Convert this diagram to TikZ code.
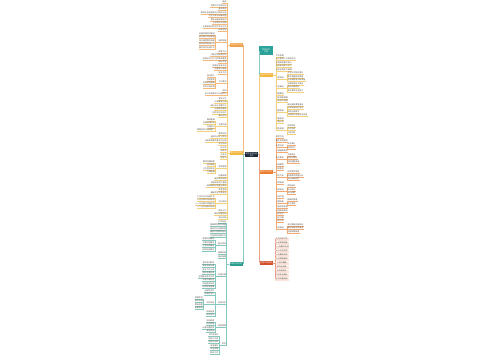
\documentclass[tikz,border=0pt]{standalone}
\usepackage{fontspec}
\usepackage{xcolor}
\newfontfamily\cjk{Noto Sans CJK SC}
\definecolor{ink}{HTML}{555049}
\definecolor{nv}{HTML}{1D2B3A}
\definecolor{tpC}{HTML}{2BA39A}
\definecolor{ojC}{HTML}{F0A04B}
\definecolor{ojL}{HTML}{F3B97C}
\definecolor{yeC}{HTML}{F2B73E}
\definecolor{yeL}{HTML}{F3D27E}
\definecolor{tlC}{HTML}{2A9D8F}
\definecolor{tlL}{HTML}{86C7BE}
\definecolor{orC}{HTML}{EC7A2C}
\definecolor{orL}{HTML}{F2AA72}
\definecolor{rdC}{HTML}{D4502A}
\definecolor{rdL}{HTML}{EC9E86}
\definecolor{rdF}{HTML}{FBE3DA}

\tikzset{
  lf/.style={font=\cjk\fontsize{2.8}{3}\selectfont, text=ink, inner xsep=0.3pt, inner ysep=0.5pt},
  br/.style={font=\cjk\fontsize{2.8}{3}\selectfont, text=white, minimum width=6.5mm, minimum height=1.8mm, inner sep=0.2pt},
  bx/.style={lf, fill=rdF, minimum width=7mm, minimum height=1.5mm, inner ysep=0.3pt},
  cn/.style={line width=0.4pt},
}

% feuille a gauche / a droite
\newcommand\lfL[4]{%
  \node[lf, anchor=south east, xshift=-1.5mm] (#1) at (#2 |- 0,#3) {#4};
  \draw[ln] (#2) -| (#1.south east) -- (#1.south west);}
\newcommand\lfR[4]{%
  \node[lf, anchor=south west, xshift=1.5mm] (#1) at (#2 |- 0,#3) {#4};
  \draw[ln] (#2) -| (#1.south west) -- (#1.south east);}
\newcommand\bxR[4]{%
  \node[bx, anchor=west, xshift=1mm] (#1) at (#2 |- 0,#3) {#4};
  \draw[ln] (#2) -| (#1.west);}

\begin{document}
\begin{tikzpicture}[x=0.5mm, y=-0.5mm]
  \useasboundingbox (0,0) rectangle (500,360);

  % Centre et branches
  \node[br, fill=nv, minimum height=2.6mm, align=center] (c) at (251.5,154.5) {学校工作计划\\范文};
  \node[br, fill=tpC, minimum width=7mm, minimum height=4.5mm, align=center] (tp) at (266,50.5) {学校工作\\计划};
  \node[br, fill=ojC] (bo) at (236.5,44.8) {学期工作计划};
  \node[br, fill=yeC] (by) at (236.5,152.8) {教学工作计划};
  \node[br, fill=tlC] (bt) at (236,264.2) {专项工作计划};
  \node[br, fill=yeC] (ry) at (266,74.8) {年度工作计划};
  \node[br, fill=orC] (ro) at (266,171.8) {德育工作计划};
  \node[br, fill=rdC] (rr) at (266,263.2) {月度工作安排};

  \draw[cn, ojL] (c.west) -| (bo.east);
  \draw[cn, yeL] (c.west) -| (by.east);
  \draw[cn, tlL] (c.west) -| (bt.east);
  \draw[cn, tlL] (c.east) -| (tp.west);
  \draw[cn, yeL] (c.east) -| (ry.west);
  \draw[cn, orL] (c.east) -| (ro.west);
  \draw[cn, rdL] (c.east) -| (rr.west);

  % Branche orange, a gauche
  \begin{scope}[ln/.style={draw=ojL, line width=0.3pt}]
    \foreach \n/\y/\txt in {oa/3/概述, ob/7/学期工作总体目标, oc/10.5/基本情况,
      od/14/教师队伍建设情况与结构分析, oe/17.5/学生人数与班级设置, of/21/教学设施配备情况,
      og/24.5/上学期工作回顾, oh/28/主要成绩与存在的不足之处, oi/31.5/指导思想,
      ok/53/德育工作, ol/56.5/开展主题班会活动, om/60/加强学生行为习惯养成教育,
      on/63.5/家校共育, oo/67/定期召开家长会, op/70.5/完善家访制度, oq/74/安全工作,
      os/92/附则, ot/95.5/本计划自发布之日起执行}
      \lfL{\n}{bo.west}{\y}{\txt};
    \lfL{oj}{bo.west}{42}{具体措施}
    \foreach \n/\y/\txt in {oj1/35/加强师德师风建设, oj2/38.5/规范教学常规管理,
      oj3/42/深化课堂教学改革, oj4/45.5/抓好校本教研工作, oj5/49/做好培优补差工作}
      \lfL{\n}{oj.south west}{\y}{\txt};
    \lfL{or}{bo.west}{83}{工作要求}
    \foreach \n/\y/\txt in {or1/77.5/责任到人, or2/81/层层落实,
      or3/84.5/定期检查督促, or4/88/及时总结反馈}
      \lfL{\n}{or.south west}{\y}{\txt};
  \end{scope}

  % Branche jaune, a gauche
  \begin{scope}[ln/.style={draw=yeL, line width=0.3pt}]
    \foreach \n/\y/\txt in {ya/100/教学工作, yb/103.5/认真备课上课, yc/107/精心设计布置作业,
      yd/110.5/加强课后辅导, ye/114/规范考试与评价, yf/117.5/教研活动,
      yh/135/教师培训, yi/138.5/组织外出学习交流, yj/142/开展青年教师基本功比赛,
      yk/145.5/学生活动, yl/149/读书节, ym/152.5/科技节, yn/156/艺术节, yo/159.5/体育节,
      yr/177/后勤保障, ys/180.5/做好物资采购, yt/184/加强学校财产管理,
      yu/187.5/保障校园环境整洁美观, yv/191/食堂管理, yw/194.5/确保师生饮食安全,
      yy/212/期末工作, yz/215.5/做好学期总结, y0/219/资料归档}
      \lfL{\n}{by.west}{\y}{\txt};
    \lfL{yg}{by.west}{126}{主要内容}
    \foreach \n/\y/\txt in {yg1/121/集体备课, yg2/124.5/听课评课活动,
      yg3/128/专题研讨, yg4/131.5/课题研究与成果推广}
      \lfL{\n}{yg.south west}{\y}{\txt};
    \lfL{yq}{by.west}{168}{常规管理}
    \foreach \n/\y/\txt in {yq1/163/教师考勤制度, yq2/166.5/值日制度,
      yq3/170/卫生检查评比, yq4/173.5/学籍管理}
      \lfL{\n}{yq.south west}{\y}{\txt};
    \lfL{yx}{by.west}{203}{月份安排}
    \foreach \n/\y/\txt in {yx1/198/九月份开学准备工作, yx2/201.5/十月份教学常规检查,
      yx3/205/十一月份期中质量检测, yx4/208.5/十二月份迎新年活动}
      \lfL{\n}{yx.south west}{\y}{\txt};
  \end{scope}

  % Branche verte, a gauche
  \begin{scope}[ln/.style={draw=tlL, line width=0.3pt}]
    \foreach \n/\y/\txt in {ta/223/工作目标, tb/226.5/提高教育教学质量,
      tc/230/促进学生全面发展, td/233.5/建设优秀教师团队, te/237/打造特色校园文化,
      tg/254.5/保障机制, th/258/组织保障}
      \lfL{\n}{bt.west}{\y}{\txt};
    \lfL{tf}{bt.west}{245}{重点项目}
    \foreach \n/\y/\txt in {tf1/240.5/智慧校园建设, tf2/244/书香校园建设,
      tf3/247.5/平安校园建设, tf4/251/绿色校园建设}
      \lfL{\n}{tf.south west}{\y}{\txt};
    \lfL{ti}{bt.west}{276}{实施步骤}
    \foreach \n/\y/\txt in {ti1/264/宣传发动阶段, ti2/267.5/制定实施方案,
      ti3/271/成立工作小组, ti4/274.5/组织实施阶段, ti5/278/全面推进各项工作,
      ti6/281.5/开展中期检查, ti7/285/总结提升阶段, ti8/288.5/形成经验成果}
      \lfL{\n}{ti.south west}{\y}{\txt};
    \lfL{tj}{bt.west}{304.5}{考核评价}
    \foreach \n/\y/\txt in {tj1/292/过程性评价, tj2/295.5/终结性评价,
      tj4/313/结果运用, tj5/316.5/评优评先}
      \lfL{\n}{tj.south west}{\y}{\txt};
    \lfL{tj3}{tj.south west}{304.5}{评价内容}
    \foreach \n/\y/\txt in {tj31/299/师德表现, tj32/302.5/教学业绩,
      tj33/306/教研成果, tj34/309.5/出勤情况}
      \lfL{\n}{tj3.south west}{\y}{\txt};
    \lfL{tk}{bt.west}{327}{经费预算}
    \foreach \n/\y/\txt in {tk1/322/培训经费, tk2/325.5/活动经费,
      tk3/329/设备购置经费, tk4/332.5/其他支出}
      \lfL{\n}{tk.south west}{\y}{\txt};
    \lfL{tl}{bt.west}{345}{附件}
    \foreach \n/\y/\txt in {tl1/336.5/工作安排表, tl2/340/责任分工表, tl3/343.5/活动计划表,
      tl4/347/考核细则, tl5/350.5/安全预案, tl6/354/联系方式}
      \lfL{\n}{tl.south west}{\y}{\txt};
  \end{scope}

  % Branche jaune, a droite
  \begin{scope}[ln/.style={draw=yeL, line width=0.3pt}]
    \foreach \n/\y/\txt in {ra/57/工作思路, rb/60.5/以立德树人为根本任务,
      rc/64/以提高质量为核心, rd/67.5/以改革创新为动力, re/71/以安全稳定为保障,
      rh/95.5/课程建设, ri/99/落实国家课程, rj/102.5/开发校本课程,
      rl/120/质量监测, rm/123.5/学情分析}
      \lfR{\n}{ry.east}{\y}{\txt};
    \lfR{rf}{ry.east}{79}{年度目标}
    \foreach \n/\y/\txt in {rf1/74.5/办学水平稳步提升, rf2/78/教学质量明显提高,
      rf3/81.5/社会满意度不断增强}
      \lfR{\n}{rf.south east}{\y}{\txt};
    \lfR{rg}{ry.east}{88}{队伍建设}
    \foreach \n/\y/\txt in {rg1/85/加强领导班子建设, rg2/88.5/强化师德修养, rg3/92/提升教师专业能力}
      \lfR{\n}{rg.south east}{\y}{\txt};
    \lfR{rk}{ry.east}{112}{课堂改革}
    \foreach \n/\y/\txt in {rk1/106/推进高效课堂建设, rk2/109.5/开展同课异构活动,
      rk3/113/实施分层教学, rk4/116.5/加强现代信息技术应用}
      \lfR{\n}{rk.south east}{\y}{\txt};
    \lfR{rn}{ry.east}{130}{特色发展}
    \foreach \n/\y/\txt in {rn1/127/体育特色, rn2/130.5/艺术特色, rn3/134/科技特色}
      \lfR{\n}{rn.south east}{\y}{\txt};
  \end{scope}

  % Branche orange, a droite
  \begin{scope}[ln/.style={draw=orL, line width=0.3pt}]
    \foreach \n/\y/\txt in {pa/138.5/德育为先, pb/142/落实常规教育, pd/152.5/心理健康教育,
      pf/166.5/法制教育, pg/170/劳动教育, pi/184/教师发展, pk/198/名师工程,
      pm/208.5/完善考核机制, pn/212/加强制度建设, po/215.5/家校合作,
      pp/219/社区共建, pq/222.5/宣传工作}
      \lfR{\n}{ro.east}{\y}{\txt};
    \lfR{pc}{ro.east}{147.5}{主题活动}
    \foreach \n/\y/\txt in {pc1/145.5/开学典礼, pc2/149/升旗仪式}
      \lfR{\n}{pc.south east}{\y}{\txt};
    \lfR{pe}{ro.east}{159.5}{安全教育}
    \foreach \n/\y/\txt in {pe1/156/交通安全, pe2/159.5/防溺水教育, pe3/163/消防疏散演练}
      \lfR{\n}{pe.south east}{\y}{\txt};
    \lfR{ph}{ro.east}{177}{教学为本}
    \foreach \n/\y/\txt in {ph1/173.5/抓实教学常规, ph2/177/加强教学质量分析, ph3/180.5/推进课题研究}
      \lfR{\n}{ph.south east}{\y}{\txt};
    \lfR{pj}{ro.east}{191}{培养途径}
    \foreach \n/\y/\txt in {pj1/187.5/师徒结对, pj2/191/外出培训, pj3/194.5/校内研修}
      \lfR{\n}{pj.south east}{\y}{\txt};
    \lfR{pl}{ro.east}{203.5}{管理创新}
    \foreach \n/\y/\txt in {pl1/201.5/精细化管理, pl2/205/民主管理}
      \lfR{\n}{pl.south east}{\y}{\txt};
    \lfR{pr}{ro.east}{229.5}{信息报送}
    \foreach \n/\y/\txt in {pr1/226/及时更新校园网站, pr2/229.5/做好新闻宣传报道, pr3/233/加强舆情管理}
      \lfR{\n}{pr.south east}{\y}{\txt};
  \end{scope}

  % Branche rouge, a droite
  \begin{scope}[ln/.style={draw=rdL, line width=0.3pt}]
    \foreach \n/\y/\txt in {xa/239/九月开学工作, xb/243/十月常规检查, xc/247/十一月期中考试,
      xd/251/十二月艺术节, xe/255/一月期末考试, xf/259/二月寒假安排, xg/263/三月学雷锋,
      xh/267/四月运动会, xi/271/五月劳动月, xj/275/六月毕业典礼, xk/279/七月学期总结}
      \bxR{\n}{rr.east}{\y}{\txt};
  \end{scope}
\end{tikzpicture}
\end{document}
